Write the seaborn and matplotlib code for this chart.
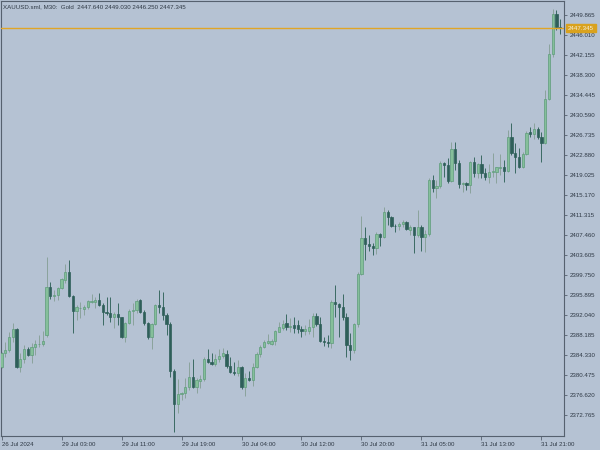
import numpy as np
import pandas as pd
import seaborn as sns
import matplotlib
matplotlib.use("Agg")
import matplotlib.pyplot as plt
import matplotlib.transforms as mtransforms

sns.set_theme(style="ticks")
plt.rcParams['font.family'] = ['Liberation Sans', 'DejaVu Sans']

# XAUUSD M30 bars (open / high / low / close)
opens = [2381.96, 2384.66, 2385.29, 2387.74, 2389.28, 2382.08, 2383.50, 2385.43, 2384.33, 2385.81,
         2386.39, 2386.40, 2388.18, 2397.38, 2395.76, 2395.80, 2397.19, 2398.85, 2400.27, 2395.70,
         2392.81, 2393.33, 2393.14, 2393.52, 2394.62, 2394.49, 2394.93, 2393.97, 2392.68, 2392.37,
         2391.71, 2392.23, 2391.60, 2387.74, 2390.44, 2392.87, 2392.95, 2394.93, 2392.68, 2390.44,
         2387.74, 2390.31, 2393.91, 2393.64, 2392.04, 2390.31, 2381.30, 2374.89, 2376.76, 2376.95,
         2378.10, 2380.03, 2378.10, 2379.38, 2379.70, 2383.56, 2383.04, 2382.55, 2383.50, 2384.14,
         2384.60, 2382.21, 2381.11, 2380.85, 2381.96, 2378.10, 2379.84, 2379.51, 2381.96, 2384.52,
         2385.93, 2386.59, 2386.50, 2387.09, 2388.82, 2389.48, 2390.44, 2389.80, 2390.05, 2390.11,
         2389.33, 2388.90, 2388.96, 2389.67, 2391.85, 2390.31, 2387.03, 2386.90, 2386.59, 2394.49,
         2394.10, 2393.52, 2391.60, 2386.26, 2385.29, 2390.31, 2399.94, 2406.82, 2405.73, 2405.34,
         2404.90, 2407.65, 2407.02, 2411.89, 2410.99, 2409.25, 2409.10, 2409.58, 2410.04, 2408.42,
         2408.94, 2407.46, 2409.06, 2407.02, 2407.65, 2418.06, 2416.46, 2416.96, 2421.28, 2420.95,
         2417.93, 2423.98, 2421.28, 2417.29, 2417.45, 2417.10, 2421.59, 2419.35, 2421.09, 2419.35,
         2418.58, 2419.66, 2419.55, 2420.40, 2420.51, 2419.85, 2426.29, 2423.21, 2422.44, 2420.62,
         2423.07, 2427.25, 2426.95, 2427.89, 2426.29, 2425.14, 2433.67, 2442.29, 2450.00, 2447.64]
highs = [2384.97, 2386.89, 2388.82, 2390.44, 2389.48, 2384.66, 2386.26, 2385.93, 2386.59, 2387.22,
         2388.18, 2388.96, 2403.28, 2398.46, 2396.86, 2397.50, 2399.11, 2401.87, 2402.64, 2395.90,
         2393.97, 2394.60, 2393.97, 2394.93, 2396.09, 2395.57, 2396.34, 2394.29, 2395.57, 2395.45,
         2392.68, 2394.41, 2391.75, 2390.75, 2393.14, 2394.29, 2395.07, 2395.07, 2393.00, 2390.75,
         2390.56, 2394.16, 2396.86, 2396.53, 2392.48, 2390.75, 2381.57, 2379.65, 2377.26, 2379.84,
         2383.04, 2383.50, 2379.84, 2380.47, 2383.89, 2385.49, 2384.66, 2384.52, 2385.49, 2385.68,
         2385.29, 2383.94, 2382.98, 2383.37, 2382.21, 2380.80, 2381.25, 2382.73, 2384.91, 2386.26,
         2387.22, 2388.32, 2387.41, 2389.14, 2390.69, 2391.08, 2392.23, 2391.40, 2391.71, 2391.08,
         2389.92, 2390.11, 2391.21, 2392.48, 2392.43, 2391.71, 2387.86, 2388.18, 2394.93, 2397.82,
         2394.29, 2396.09, 2392.48, 2388.51, 2390.44, 2400.39, 2411.12, 2408.94, 2407.46, 2405.86,
         2408.10, 2407.90, 2412.80, 2412.28, 2411.10, 2409.58, 2409.97, 2410.35, 2410.20, 2409.39,
         2409.06, 2412.28, 2409.39, 2408.42, 2418.45, 2419.02, 2418.06, 2421.72, 2421.45, 2422.24,
         2425.44, 2425.44, 2421.92, 2417.73, 2417.73, 2421.80, 2422.44, 2421.28, 2422.88, 2420.32,
         2421.09, 2423.32, 2420.63, 2423.07, 2421.92, 2427.70, 2429.11, 2425.14, 2424.17, 2423.51,
         2427.56, 2428.22, 2429.11, 2428.34, 2427.37, 2435.41, 2444.28, 2450.96, 2450.90, 2449.03]
lows = [2381.77, 2384.00, 2384.97, 2386.89, 2381.77, 2381.11, 2382.73, 2384.14, 2382.73, 2384.33,
        2385.93, 2386.12, 2387.86, 2395.07, 2394.80, 2394.93, 2396.99, 2398.15, 2395.57, 2388.63,
        2391.08, 2391.40, 2392.04, 2393.14, 2394.29, 2393.33, 2393.77, 2390.11, 2392.04, 2390.75,
        2389.48, 2390.11, 2387.55, 2386.89, 2390.31, 2390.11, 2392.37, 2392.37, 2390.11, 2387.36,
        2385.43, 2390.11, 2392.37, 2391.08, 2388.18, 2380.15, 2369.55, 2373.09, 2375.66, 2375.98,
        2377.58, 2377.91, 2376.95, 2377.91, 2379.38, 2382.85, 2382.40, 2382.21, 2382.98, 2383.75,
        2381.82, 2380.86, 2380.47, 2380.28, 2377.78, 2376.43, 2379.32, 2378.35, 2381.82, 2384.00,
        2385.68, 2386.45, 2386.26, 2386.26, 2388.76, 2389.15, 2389.15, 2388.82, 2388.63, 2388.51,
        2387.80, 2388.18, 2388.38, 2387.86, 2389.92, 2386.84, 2386.06, 2385.81, 2385.62, 2391.71,
        2387.86, 2391.08, 2384.00, 2383.37, 2384.77, 2389.67, 2399.80, 2402.64, 2404.43, 2403.61,
        2403.80, 2405.34, 2406.82, 2409.39, 2408.94, 2408.10, 2408.42, 2409.06, 2408.42, 2407.46,
        2403.93, 2407.13, 2404.43, 2404.24, 2407.27, 2415.81, 2414.53, 2416.52, 2418.68, 2417.43,
        2417.68, 2419.99, 2416.46, 2415.81, 2416.13, 2415.50, 2418.68, 2418.39, 2418.39, 2418.06,
        2417.43, 2418.68, 2417.54, 2419.02, 2417.73, 2419.66, 2422.88, 2419.35, 2420.32, 2420.32,
        2422.88, 2426.29, 2425.91, 2425.91, 2421.59, 2425.00, 2433.48, 2441.83, 2446.97, 2446.25]
closes = [2384.66, 2385.29, 2387.74, 2389.28, 2382.08, 2383.50, 2385.43, 2384.33, 2385.81, 2386.39,
          2386.45, 2387.09, 2397.38, 2395.76, 2395.84, 2397.19, 2398.92, 2400.27, 2395.70, 2392.87,
          2393.52, 2393.45, 2393.58, 2394.74, 2394.70, 2394.93, 2393.97, 2392.68, 2392.37, 2391.71,
          2392.23, 2391.60, 2387.74, 2390.44, 2392.87, 2393.00, 2394.80, 2392.68, 2390.44, 2387.74,
          2390.31, 2393.97, 2393.64, 2392.04, 2390.31, 2381.30, 2374.89, 2376.81, 2376.95, 2378.10,
          2380.03, 2378.10, 2379.51, 2379.70, 2383.56, 2383.04, 2382.60, 2383.56, 2384.14, 2384.72,
          2382.21, 2381.11, 2380.85, 2381.96, 2378.10, 2379.84, 2379.51, 2381.96, 2384.52, 2385.93,
          2386.89, 2386.95, 2387.09, 2389.01, 2389.67, 2390.31, 2389.79, 2389.95, 2389.48, 2389.33,
          2388.90, 2389.28, 2389.79, 2391.85, 2390.31, 2387.03, 2386.78, 2386.59, 2394.49, 2394.10,
          2393.52, 2391.60, 2386.26, 2385.29, 2390.31, 2399.94, 2406.82, 2405.73, 2405.34, 2404.90,
          2407.65, 2407.02, 2411.89, 2410.99, 2409.25, 2409.10, 2409.58, 2410.04, 2408.62, 2408.94,
          2407.46, 2409.06, 2407.02, 2407.65, 2418.06, 2416.46, 2416.96, 2421.28, 2420.95, 2417.93,
          2423.98, 2421.28, 2417.29, 2417.45, 2417.10, 2421.59, 2419.35, 2421.09, 2419.35, 2418.58,
          2419.66, 2419.85, 2420.51, 2420.51, 2419.85, 2426.29, 2423.21, 2422.44, 2420.62, 2423.07,
          2427.18, 2426.95, 2427.89, 2426.29, 2425.14, 2433.67, 2442.29, 2450.00, 2447.61, 2447.345]

y_ticks = [2372.765, 2376.620, 2380.475, 2384.330, 2388.185, 2392.040, 2395.895,
           2399.750, 2403.605, 2407.460, 2411.315, 2415.170, 2419.025, 2422.880,
           2426.735, 2430.590, 2434.445, 2438.300, 2442.155, 2446.010, 2449.865]
x_tick_times = ["2024-07-26 18:00", "2024-07-29 03:00", "2024-07-29 11:00", "2024-07-29 19:00",
                "2024-07-30 04:00", "2024-07-30 12:00", "2024-07-30 20:00", "2024-07-31 05:00",
                "2024-07-31 13:00", "2024-07-31 21:00"]
title = "XAUUSD.sml, M30:  Gold  2447.640 2449.030 2446.250 2447.345"

# bar times: Friday evening, then three sessions 01:00-23:30
times = list(pd.date_range("2024-07-26 18:00", "2024-07-26 23:30", freq="30min"))
for d in ["2024-07-29", "2024-07-30", "2024-07-31"]:
    times += list(pd.date_range(d + " 01:00", d + " 23:30", freq="30min"))

df = pd.DataFrame({"time": times, "open": opens, "high": highs, "low": lows, "close": closes})
df["idx"] = np.arange(len(df))
df["bull"] = df["close"] >= df["open"]

bg = "#B5C2D3"
bull_face, bull_edge, bull_wick = "#85BF9A", "#5E9C7B", "#8AA39C"
bear_face, bear_wick = "#2E5F59", "#3B6A63"
axis_col = "#56616F"
txt_col = "#2E3844"
fs = 4.4

fig = plt.figure(figsize=(6, 4.5), dpi=100, facecolor=bg)
ax = fig.add_axes([0.0022, 0.0311, 0.9386, 0.9656], facecolor=bg)

up = df[df["bull"]]
dn = df[~df["bull"]]
ax.vlines(up["idx"], up["low"], up["high"], color=bull_wick, linewidth=0.7, zorder=2)
ax.vlines(dn["idx"], dn["low"], dn["high"], color=bear_wick, linewidth=0.7, zorder=2)

body_min = 0.14
up_h = np.maximum(up["close"] - up["open"], body_min)
dn_h = np.maximum(dn["open"] - dn["close"], body_min)
ax.bar(up["idx"], up_h, bottom=up["open"], width=0.66, color=bull_face,
       edgecolor=bull_edge, linewidth=0.5, zorder=3)
ax.bar(dn["idx"], dn_h, bottom=dn["close"], width=0.66, color=bear_face,
       edgecolor=bear_face, linewidth=0.5, zorder=3)

last = df["close"].iloc[-1]
ax.axhline(last, color="#E0A526", linewidth=1.0, zorder=4)

ax.set_xlim(-0.05, 150.13)
ax.set_ylim(2368.717, 2452.467)

ax.yaxis.tick_right()
ax.set_yticks(y_ticks)
ax.set_yticklabels([f"{v:.3f}" for v in y_ticks])
ax.tick_params(axis="y", direction="out", length=2.5, width=0.6, pad=1,
               labelsize=fs, colors=axis_col, labelcolor=txt_col)

tick_idx = [int(df.index[df["time"] == pd.Timestamp(t)][0]) for t in x_tick_times]
tick_lbl = [pd.Timestamp(t).strftime("%d %b %Y") if k == 0 else pd.Timestamp(t).strftime("%d %b %H:%M")
            for k, t in enumerate(x_tick_times)]
ax.set_xticks(tick_idx)
ax.set_xticklabels(tick_lbl)
ax.tick_params(axis="x", direction="out", length=3, width=0.6, pad=1.5,
               labelsize=fs, colors=axis_col, labelcolor=txt_col)
for lbl in ax.get_xticklabels():
    lbl.set_horizontalalignment("left")

for s in ax.spines.values():
    s.set_color(axis_col)
    s.set_linewidth(0.8)

ax.grid(False)
ax.text(0.003, 0.993, title, transform=ax.transAxes, ha="left", va="top",
        fontsize=fs, color=txt_col)

trans = mtransforms.blended_transform_factory(ax.transAxes, ax.transData)
ax.text(1.006, last, f"{last:.3f}", transform=trans, ha="left", va="center",
        fontsize=fs, color="#F4F0E0", zorder=6, clip_on=False,
        bbox=dict(boxstyle="square,pad=0.3", facecolor="#D9A21E", edgecolor="#D9A21E"))

fig.savefig("out.png", dpi=100, facecolor=bg)
